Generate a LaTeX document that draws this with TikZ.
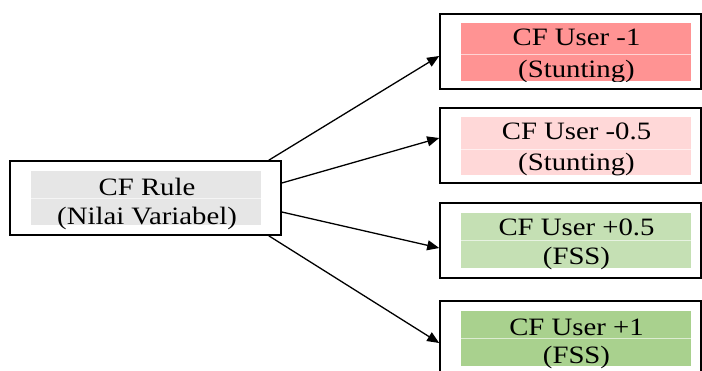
\documentclass[tikz,border=0pt]{standalone}
\usepackage{graphicx}
\usepackage{fontspec}
\setmainfont{Liberation Serif}
\usetikzlibrary{arrows.meta}
\definecolor{cgray}{HTML}{E6E6E6}
\definecolor{cred}{HTML}{FF9393}
\definecolor{cpink}{HTML}{FFD8D8}
\definecolor{clgreen}{HTML}{C5E0B4}
\definecolor{cgreen}{HTML}{A9D18E}
\newcommand{\sx}[1]{\scalebox{1.15}[1]{#1}}
\begin{document}
\begin{tikzpicture}[x=1pt,y=-1pt,
  outerbox/.style={draw=black, line width=1.6pt, fill=white, inner sep=0pt},
  cell/.style={inner sep=0pt, draw=none, minimum width=230pt},
  txt/.style={inner sep=0pt, anchor=base, font=\fontsize{25}{30}\selectfont},
  divider/.style={draw=white, draw opacity=0.6, line width=0.6pt},
  conn/.style={line width=1.3pt, -{Triangle[length=12pt,width=10pt]}}
]
\useasboundingbox (0,0) rectangle (702,370);
\fill[white] (0,0) rectangle (702,370);

% left box
\node[outerbox, minimum width=271pt, minimum height=74pt] (L) at (145.5,198) {};
\node[cell, fill=cgray, minimum height=54pt] (Lc) at (146,198) {};
\draw[divider] (Lc.west |- 0,198) -- (Lc.east |- 0,198);
\node[txt] (L1) at (147,195) {\sx{CF Rule}};
\node[txt] (L2) at (147,224) {\sx{(Nilai Variabel)}};

% right boxes
\node[outerbox, minimum width=261pt, minimum height=75pt] (R1) at (570.5,51.5) {};
\node[outerbox, minimum width=261pt, minimum height=75pt] (R2) at (570.5,145.5) {};
\node[outerbox, minimum width=261pt, minimum height=75pt] (R3) at (570.5,240.5) {};
\node[outerbox, minimum width=261pt, minimum height=75pt] (R4) at (570.5,338.5) {};

\node[cell, fill=cred, minimum height=58pt] (C1) at (576,52) {};
\node[cell, fill=cpink, minimum height=58pt] (C2) at (576,146) {};
\node[cell, fill=clgreen, minimum height=55pt] (C3) at (576,240.5) {};
\node[cell, fill=cgreen, minimum height=55pt] (C4) at (576,338.5) {};

\draw[divider] (C1.west |- 0,54) -- (C1.east |- 0,54);
\draw[divider] (C2.west |- 0,149) -- (C2.east |- 0,149);
\draw[divider] (C3.west |- 0,240) -- (C3.east |- 0,240);
\draw[divider] (C4.west |- 0,338) -- (C4.east |- 0,338);

\begin{scope}
\clip (C1.south west) rectangle (C1.north east);
\node[txt] (T1a) at (576.5,45) {\sx{CF User -1}};
\node[txt] (T1b) at (576.5,77) {\sx{(Stunting)}};
\end{scope}
\begin{scope}
\clip (C2.south west) rectangle (C2.north east);
\node[txt] (T2a) at (576.5,139) {\sx{CF User -0.5}};
\node[txt] (T2b) at (576.5,170) {\sx{(Stunting)}};
\end{scope}
\node[txt] (T3a) at (576.5,235) {\sx{CF User +0.5}};
\node[txt] (T3b) at (576.5,264) {\sx{(FSS)}};
\node[txt] (T4a) at (576.5,335) {\sx{CF User +1}};
\node[txt] (T4b) at (576.5,363) {\sx{(FSS)}};

% connectors
\draw[conn] ([xshift=-13pt]L.north east) -- ([yshift=-4.5pt]R1.west);
\draw[conn] ([yshift=15pt]L.east) -- ([yshift=7.5pt]R2.west);
\draw[conn] ([yshift=-14pt]L.east) -- ([yshift=-7.5pt]R3.west);
\draw[conn] ([xshift=-13pt]L.south east) -- ([yshift=-4.5pt]R4.west);
\end{tikzpicture}
\end{document}
